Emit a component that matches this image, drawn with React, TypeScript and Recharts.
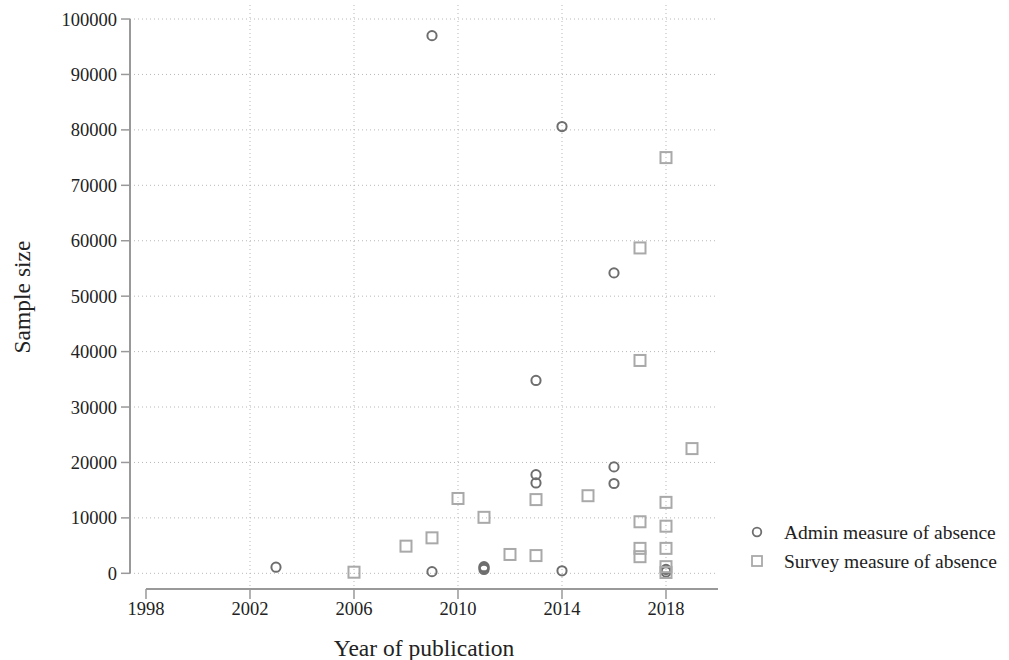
import React from 'react';
import {
  ScatterChart, Scatter, XAxis, YAxis, CartesianGrid, ReferenceLine
} from 'recharts';

// Admin measure of absence (circles)
const adminYears = [2003, 2009, 2009, 2011, 2011, 2011, 2013, 2013, 2013, 2014, 2014, 2016, 2016, 2016, 2018, 2018];
const adminSizes = [1100, 97000, 300, 700, 1000, 1200, 34800, 17800, 16300, 80600, 450, 54200, 19200, 16200, 700, 250];

// Survey measure of absence (squares)
const surveyYears = [2006, 2008, 2009, 2010, 2011, 2012, 2013, 2013, 2015, 2017, 2017, 2017, 2017, 2017, 2018, 2018, 2018, 2018, 2018, 2018, 2019];
const surveySizes = [200, 4900, 6400, 13500, 10100, 3400, 13300, 3200, 14000, 58700, 38400, 9300, 4500, 3000, 75000, 12800, 8500, 4500, 1200, 150, 22500];

const yTicks = [0, 10000, 20000, 30000, 40000, 50000, 60000, 70000, 80000, 90000, 100000];
const xTicks = [1998, 2002, 2006, 2010, 2014, 2018];
const xGrid = [2002, 2006, 2010, 2014, 2018];

const adminData = adminYears.map((year, i) => ({ year, size: adminSizes[i] }));
const surveyData = surveyYears.map((year, i) => ({ year, size: surveySizes[i] }));

const ADMIN = '#6e6e6e';
const SURVEY = '#a9a9a9';
const FONT = '"Liberation Serif", "Times New Roman", serif';

const X_MIN = 1997.385;
const Y_MIN = -2830;

const Circle = (props: any) => (
  <circle cx={props.cx} cy={props.cy} r={4.6} fill="none" stroke={ADMIN} strokeWidth={2} />
);

const Square = (props: any) => (
  <rect x={props.cx - 5.5} y={props.cy - 5.5} width={11} height={11} fill="none" stroke={SURVEY} strokeWidth={2} />
);

const LegendBox = () => (
  <svg width={260} height={60} style={{ position: 'absolute', left: 748, top: 520, overflow: 'visible' }}>
    <circle cx={9} cy={12} r={4.3} fill="none" stroke={ADMIN} strokeWidth={1.8} />
    <text x={36} y={18.5} fontFamily={FONT} fontSize={19.5} fill="#222">Admin measure of absence</text>
    <rect x={4} y={36} width={10} height={10} fill="none" stroke={SURVEY} strokeWidth={1.8} />
    <text x={36} y={47.5} fontFamily={FONT} fontSize={19.5} fill="#222">Survey measure of absence</text>
  </svg>
);

export default function App() {
  return (
    <div style={{ position: 'absolute', left: 0, top: 0, width: 1009, height: 660, background: '#fff' }}>
      <ScatterChart width={1009} height={660} margin={{ top: 5, right: 291, bottom: 0, left: 0 }}>
        <CartesianGrid
          stroke="#b8b8b8"
          strokeDasharray="1 3"
          horizontalValues={yTicks}
          verticalValues={xGrid}
        />
        <XAxis
          type="number"
          dataKey="year"
          domain={[X_MIN, 2020]}
          ticks={xTicks}
          axisLine={false}
          tickLine={{ stroke: '#999', strokeWidth: 1.5 }}
          tickSize={10}
          tickMargin={3}
          height={71}
          tick={{ fontFamily: FONT, fontSize: 18.5, fill: '#222' }}
          allowDataOverflow
          label={{ value: 'Year of publication', position: 'insideBottom', offset: 4, fontFamily: FONT, fontSize: 23.5, fill: '#222' }}
        />
        <YAxis
          type="number"
          dataKey="size"
          domain={[Y_MIN, 102530]}
          ticks={yTicks}
          axisLine={false}
          tickLine={{ stroke: '#999', strokeWidth: 1.5 }}
          tickSize={9}
          tickMargin={4}
          width={130}
          tick={{ fontFamily: FONT, fontSize: 18.5, fill: '#222' }}
          allowDataOverflow
          label={{ value: 'Sample size', angle: -90, position: 'insideLeft', offset: 22, fontFamily: FONT, fontSize: 23.5, fill: '#222', style: { textAnchor: 'middle' } }}
        />
        <ReferenceLine
          segment={[{ x: X_MIN, y: 0 }, { x: X_MIN, y: 100000 }]}
          stroke="#999"
          strokeWidth={2}
          ifOverflow="visible"
        />
        <ReferenceLine
          segment={[{ x: 1998, y: Y_MIN }, { x: 2020, y: Y_MIN }]}
          stroke="#999"
          strokeWidth={2}
          ifOverflow="visible"
        />
        <Scatter name="Admin measure of absence" data={adminData} shape={Circle} isAnimationActive={false} />
        <Scatter name="Survey measure of absence" data={surveyData} shape={Square} isAnimationActive={false} />
      </ScatterChart>
      <LegendBox />
    </div>
  );
}
